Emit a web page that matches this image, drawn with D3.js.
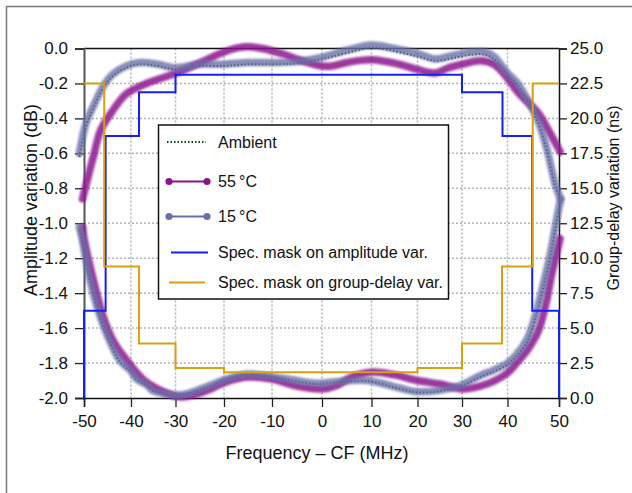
<!DOCTYPE html>
<html lang="en">
<head>
<meta charset="UTF-8">
<title>Amplitude and group-delay variation</title>
<script src="https://d3js.org/d3.v7.min.js"></script>
<style>
    body { margin: 0; background: #fff; font-family: Arial, "Liberation Sans", sans-serif; }
    .grid line { stroke: #b4b4b4; stroke-width: 1.5; stroke-dasharray: 2 2; }
    .axis text { font: 17px Arial, "Liberation Sans", sans-serif; fill: #111; }
    .axis line { stroke: #222; stroke-width: 1.3; }
    .title { font: 18px Arial, "Liberation Sans", sans-serif; fill: #111; }
    .legend text { font: 16px Arial, "Liberation Sans", sans-serif; fill: #111; }
</style>
</head>
<body>
<svg id="chart" width="632" height="493"></svg>
<script>
    // ---- data ----
    const xTicks = [-50, -40, -30, -20, -10, 0, 10, 20, 30, 40, 50];
    const yLeftTicks = [0, -0.2, -0.4, -0.6, -0.8, -1.0, -1.2, -1.4, -1.6, -1.8, -2.0];
    const yRightTicks = [0, 2.5, 5, 7.5, 10, 12.5, 15, 17.5, 20, 22.5, 25];

    // amplitude variation (dB)
    const ampFreq15 = [-51, -49.5, -48, -46, -44, -41, -38, -34, -30, -25, -20, -15, -10, -5, 0, 5, 10, 15, 20, 24, 28, 32, 35, 37, 40, 42, 44, 46, 47.6, 49.3, 50.3];
    const amp15 =     [-0.60, -0.42, -0.33, -0.22, -0.15, -0.10, -0.08, -0.09, -0.11, -0.09, -0.09, -0.08, -0.08, -0.075, -0.05, -0.01, 0.02, 0.0, -0.03, -0.06, -0.04, -0.02, -0.02, -0.045, -0.14, -0.20, -0.30, -0.42, -0.57, -0.78, -0.86];
    const ampFreq55 = [-50.3, -49, -48, -46.5, -44, -41, -36.5, -32, -28, -24, -20, -17, -15, -12, -8, -4, 0, 2, 5, 10, 16, 20, 24, 27, 30, 34, 37, 40, 42, 44, 46, 48, 50.2];
    const amp55 =     [-0.86, -0.72, -0.62, -0.47, -0.36, -0.26, -0.20, -0.16, -0.12, -0.07, -0.02, 0.005, 0.01, 0.0, -0.03, -0.07, -0.10, -0.10, -0.08, -0.065, -0.09, -0.12, -0.14, -0.11, -0.09, -0.07, -0.09, -0.17, -0.25, -0.31, -0.37, -0.47, -0.59];
    const ampFreqAmb = [-51, -49.5, -48, -46, -44, -41, -38, -34, -30, -25, -20, -15, -10, -5, 0, 5, 10, 15, 20, 24, 28, 32, 35, 37, 40, 42, 44, 46, 47.6, 49.3, 50.3];
    const ampAmb =     [-0.62, -0.44, -0.34, -0.23, -0.16, -0.11, -0.09, -0.10, -0.12, -0.10, -0.10, -0.09, -0.09, -0.085, -0.06, -0.025, 0.005, -0.015, -0.045, -0.07, -0.055, -0.035, -0.035, -0.06, -0.15, -0.21, -0.31, -0.43, -0.58, -0.79, -0.86];

    // group-delay variation (ns)
    const gdFreq15 = [-51, -50.5, -49.8, -48.7, -47.3, -45.2, -42.4, -40.2, -38.7, -36.5, -35, -32, -30, -27.7, -23.6, -19.5, -15.4, -11.3, -5.9, -1, 2.3, 9.1, 16.2, 19.9, 25, 29.6, 34, 37, 40, 41.5, 43.8, 45.5, 47, 48.3, 49.5, 50.3];
    const gd15 =     [12.2, 11.6, 10.3, 8.4, 6.6, 4.6, 2.7, 2.0, 1.35, 0.95, 0.5, 0.3, 0.2, 0.3, 0.8, 1.35, 1.7, 1.6, 1.3, 1.05, 1.15, 1.25, 0.7, 0.45, 0.55, 0.9, 1.6, 2.0, 2.5, 3.0, 4.2, 6.0, 8.2, 10.3, 12.7, 14.2];
    const gdFreq55 = [-50.3, -50, -48.7, -47.3, -45.9, -43.8, -40.9, -37.2, -32.7, -29, -26, -23, -20, -15, -10, -5, 0, 3, 6, 10, 15, 20, 25, 30, 34, 37, 40, 42, 44, 46, 47.5, 48.5, 49.5, 50.2];
    const gd55 =     [12.2, 11.4, 9.4, 7.5, 5.8, 4.1, 2.7, 1.3, 0.45, 0.08, 0.25, 0.6, 1.1, 1.5, 1.35, 0.85, 0.65, 0.9, 1.5, 1.85, 1.65, 1.25, 1.0, 0.65, 0.85, 1.2, 1.8, 2.6, 3.5, 4.8, 6.8, 8.7, 10.3, 11.4];
    const gdFreqAmb = [-51, -50.5, -49.8, -48.7, -47.3, -45.2, -42.4, -40.2, -38.7, -36.5, -35, -32, -30, -27.7, -23.6, -19.5, -15.4, -11.3, -5.9, -1, 2.3, 9.1, 16.2, 19.9, 25, 29.6, 34, 37, 40, 41.5, 43.8, 45.5, 47, 48.3, 49.5, 50.3];
    const gdAmb =     [12.0, 11.4, 10.1, 8.3, 6.5, 4.5, 2.6, 1.9, 1.3, 0.9, 0.5, 0.3, 0.2, 0.3, 0.75, 1.3, 1.65, 1.55, 1.25, 1.0, 1.1, 1.2, 0.65, 0.4, 0.5, 0.85, 1.5, 1.9, 2.4, 2.9, 4.0, 5.8, 8.0, 10.1, 12.5, 14.0];

    // specification masks: step edges and levels
    const ampMaskEdges = [-50, -45.4, -38.2, -30, 30, 38.9, 44.8, 50];
    const ampMaskLevels = [-1.5, -0.5, -0.25, -0.15, -0.25, -0.5, -1.5];
    const ampMaskFloor = -2.0;
    const gdMaskEdges = [-50, -45.7, -38.2, -30, -20, 20, 30, 38.8, 44.9, 50];
    const gdMaskLevels = [22.5, 9.4, 3.9, 2.15, 1.85, 2.15, 3.9, 9.4, 22.5];

    const legendItems = ["Ambient", "55\u2009°C", "15\u2009°C", "Spec. mask on amplitude var.", "Spec. mask on group-delay var."];

    // ---- layout ----
    const plotL = 84, plotR = 559, plotT = 48.5, plotB = 398;
    const xTickPx = [84, 131, 175.5, 224, 272, 322, 371.5, 417.5, 462, 507.5, 559];

    const col55 = "#8c128e", col15 = "#6b6fa7", colAmb = "#0c4a14";
    const colAmpMask = "#1420f5", colGdMask = "#d9a00f";

    const svg = d3.select("#chart");

    // outer frame (top and left edge only)
    svg.append("path")
        .attr("d", "M6.5,493V6.5H632")
        .attr("fill", "none").attr("stroke", "#7a7a7a").attr("stroke-width", 1.5);

    const x = d3.scaleLinear().domain(xTicks).range(xTickPx);
    const yL = d3.scaleLinear().domain([-2, 0]).range([plotB, plotT]);
    const yR = d3.scaleLinear().domain([0, 25]).range([plotB, plotT]);

    // grid
    const grid = svg.append("g").attr("class", "grid");
    grid.selectAll(".gx").data(xTicks.slice(1, -1)).join("line")
        .attr("class", "gx")
        .attr("x1", d => x(d)).attr("x2", d => x(d))
        .attr("y1", plotT).attr("y2", plotB);
    grid.selectAll(".gy").data(yLeftTicks.slice(1, -1)).join("line")
        .attr("class", "gy")
        .attr("x1", plotL).attr("x2", plotR)
        .attr("y1", d => yL(d)).attr("y2", d => yL(d));

    // top frame line
    svg.append("line").attr("x1", plotL).attr("x2", plotR).attr("y1", plotT).attr("y2", plotT)
        .attr("stroke", "#111").attr("stroke-width", 1.5);

    // axes
    const axL = svg.append("g").attr("class", "axis").attr("transform", `translate(${plotL},0)`)
        .call(d3.axisLeft(yL).tickValues(yLeftTicks).tickSize(9).tickPadding(7).tickFormat(d => d.toFixed(1)));
    axL.select(".domain").attr("stroke", "#555").attr("stroke-width", 2);
    axL.selectAll("line").attr("stroke", "#555");

    const axR = svg.append("g").attr("class", "axis").attr("transform", `translate(${plotR},0)`)
        .call(d3.axisRight(yR).tickValues(yRightTicks).tickSize(8).tickPadding(3).tickFormat(d => d.toFixed(1)));
    axR.select(".domain").attr("stroke", "#111").attr("stroke-width", 1.5);

    const axB = svg.append("g").attr("class", "axis").attr("transform", `translate(0,${plotB})`)
        .call(d3.axisBottom(x).tickValues(xTicks).tickSize(9).tickPadding(8).tickFormat(d => String(d)));
    axB.select(".domain").attr("stroke", "#111").attr("stroke-width", 1.5);

    // blur for the measured bands
    const defs = svg.append("defs");
    defs.append("filter").attr("id", "soft").attr("x", "-5%").attr("y", "-5%").attr("width", "110%").attr("height", "110%")
        .append("feGaussianBlur").attr("stdDeviation", 0.9);

    const curve = d3.curveCatmullRom.alpha(0.5);
    const lineL = d3.line().x(d => x(d[0])).y(d => yL(d[1])).curve(curve);
    const lineR = d3.line().x(d => x(d[0])).y(d => yR(d[1])).curve(curve);
    const zip = (a, b) => a.map((v, i) => [v, b[i]]);

    // ambient (under the bands)
    [[lineL, zip(ampFreqAmb, ampAmb)], [lineR, zip(gdFreqAmb, gdAmb)]].forEach(([ln, pts]) => {
        svg.append("path").attr("d", ln(pts)).attr("fill", "none")
            .attr("stroke", colAmb).attr("stroke-width", 2).attr("stroke-dasharray", "1.5 2");
    });

    const band = (ln, pts, col, op) => svg.append("path").attr("d", ln(pts))
        .attr("fill", "none").attr("stroke", col).attr("stroke-width", 7.5)
        .attr("stroke-linecap", "round").attr("stroke-linejoin", "round")
        .attr("opacity", op).attr("filter", "url(#soft)");

    band(lineL, zip(ampFreq55, amp55), col55, 0.85);
    band(lineR, zip(gdFreq55, gd55), col55, 0.85);
    band(lineL, zip(ampFreq15, amp15), col15, 0.8);
    band(lineR, zip(gdFreq15, gd15), col15, 0.8);

    // spec masks
    const nA = ampMaskEdges.length;
    const ampMaskPts = [[ampMaskEdges[0], ampMaskFloor]]
        .concat(ampMaskLevels.map((v, i) => [ampMaskEdges[i], v]))
        .concat([[ampMaskEdges[nA - 1], ampMaskLevels[nA - 2]], [ampMaskEdges[nA - 1], ampMaskFloor]]);
    svg.append("path")
        .attr("d", d3.line().x(d => x(d[0])).y(d => yL(d[1])).curve(d3.curveStepAfter)(ampMaskPts))
        .attr("fill", "none").attr("stroke", colAmpMask).attr("stroke-width", 2);

    const nG = gdMaskEdges.length;
    const gdMaskPts = gdMaskLevels.map((v, i) => [gdMaskEdges[i], v])
        .concat([[gdMaskEdges[nG - 1], gdMaskLevels[nG - 2]]]);
    svg.append("path")
        .attr("d", d3.line().x(d => x(d[0])).y(d => yR(d[1])).curve(d3.curveStepAfter)(gdMaskPts))
        .attr("fill", "none").attr("stroke", colGdMask).attr("stroke-width", 2);

    // titles
    svg.append("text").attr("class", "title").attr("text-anchor", "middle")
        .attr("x", 317).attr("y", 459).text("Frequency \u2013 CF (MHz)");
    svg.append("text").attr("class", "title").attr("text-anchor", "middle")
        .attr("transform", "translate(37,200) rotate(-90)").text("Amplitude variation (dB)");
    svg.append("text").attr("class", "title").attr("text-anchor", "middle").style("font-size", "16px")
        .attr("transform", "translate(619,198) rotate(-90)").text("Group-delay variation (ns)");

    // legend
    const lg = svg.append("g").attr("class", "legend");
    lg.append("rect").attr("x", 158.5).attr("y", 125).attr("width", 290).attr("height", 174)
        .attr("fill", "#fff").attr("stroke", "#111").attr("stroke-width", 1.5);
    const rowY = [142, 181.5, 216.5, 252.5, 282.5];
    lg.selectAll("text").data(legendItems).join("text")
        .attr("x", 218).attr("y", (d, i) => rowY[i]).attr("dy", "0.35em").text(d => d);

    lg.append("line").attr("x1", 167).attr("x2", 206).attr("y1", rowY[0]).attr("y2", rowY[0])
        .attr("stroke", colAmb).attr("stroke-width", 2).attr("stroke-dasharray", "1.5 2");
    [[col55, rowY[1]], [col15, rowY[2]]].forEach(([c, yy]) => {
        lg.append("line").attr("x1", 169).attr("x2", 207).attr("y1", yy).attr("y2", yy)
            .attr("stroke", c).attr("stroke-width", 2);
        lg.selectAll(null).data([169, 207]).join("circle")
            .attr("cx", d => d).attr("cy", yy).attr("r", 3.6).attr("fill", c);
    });
    lg.append("line").attr("x1", 171).attr("x2", 208).attr("y1", rowY[3]).attr("y2", rowY[3])
        .attr("stroke", colAmpMask).attr("stroke-width", 2);
    lg.append("line").attr("x1", 169).attr("x2", 205).attr("y1", rowY[4]).attr("y2", rowY[4])
        .attr("stroke", colGdMask).attr("stroke-width", 2);
</script>
</body>
</html>
